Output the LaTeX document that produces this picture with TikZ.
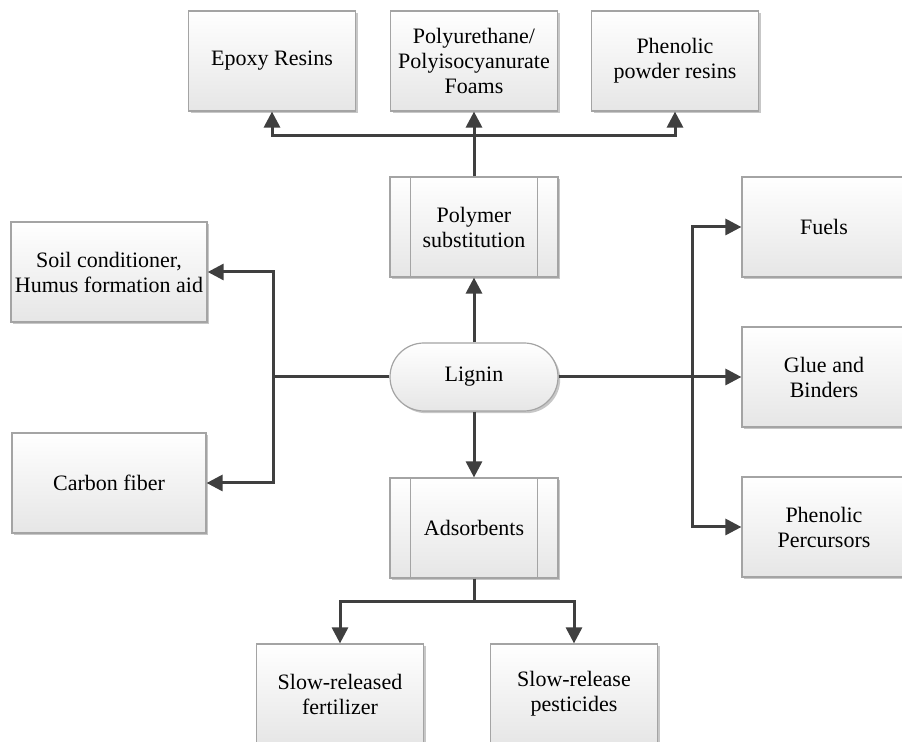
\documentclass[tikz,border=0pt]{standalone}
\usepackage{fontspec}
\setmainfont{Liberation Serif}
\usetikzlibrary{arrows.meta,shadows,calc}
\definecolor{boxborder}{HTML}{A4A4A4}
\definecolor{boxbottom}{HTML}{E6E6E6}
\definecolor{linec}{HTML}{3F3F3F}
\tikzset{
  box/.style={draw=boxborder, line width=0.6pt, top color=white, bottom color=boxbottom,
    minimum width=83.5pt, minimum height=50pt, align=center, inner sep=2pt,
    font=\fontsize{11}{12.5}\selectfont,
    drop shadow={shadow xshift=1.1pt, shadow yshift=-1.1pt, opacity=0.22, fill=black}},
  widebox/.style={box, minimum width=97pt},
  sidebox/.style={box, minimum width=82pt},
  pill/.style={box, rounded corners=17pt, minimum width=84pt, minimum height=34pt},
  conn/.style={draw=linec, line width=1.5pt},
  arr/.style={conn, -{Triangle[length=8pt,width=8pt]}},
  innerbar/.style={draw=boxborder, line width=0.6pt}
}
\begin{document}
\begin{tikzpicture}[x=0.5pt,y=-0.5pt]
\useasboundingbox (0,0) rectangle (902,742);
\clip (0,0) rectangle (902,742);
% top row
\node[box] (epoxy) at (272,61) {Epoxy Resins};
\node[box] (poly) at (474,61) {Polyurethane/\\Polyisocyanurate\\Foams};
\node[box] (phen) at (675,61) {Phenolic\\powder resins};
% centre column
\node[box, minimum width=84pt] (polymer) at (474,227) {Polymer\\substitution};
\draw[innerbar] ([xshift=10.5pt]polymer.north west) -- ([xshift=10.5pt]polymer.south west);
\draw[innerbar] ([xshift=-10.5pt]polymer.north east) -- ([xshift=-10.5pt]polymer.south east);
\node[pill] (lignin) at (474,377) {Lignin};
\node[box, minimum width=84pt] (adsorb) at (474,528) {Adsorbents};
\draw[innerbar] ([xshift=10.5pt]adsorb.north west) -- ([xshift=10.5pt]adsorb.south west);
\draw[innerbar] ([xshift=-10.5pt]adsorb.north east) -- ([xshift=-10.5pt]adsorb.south east);
% left
\node[widebox] (soil) at (109,272) {Soil conditioner,\\Humus formation aid};
\node[widebox] (carbon) at (109,483) {Carbon fiber};
% right
\node[sidebox] (fuels) at (824,227) {Fuels};
\node[sidebox] (glue) at (824,377) {Glue and\\Binders};
\node[sidebox] (perc) at (824,527) {Phenolic\\Percursors};
% bottom
\node[box] (fert) at (340,694) {Slow-released\\fertilizer};
\node[box] (pest) at (574,694) {Slow-release\\pesticides};

% connectors
\coordinate (tj) at (474,136);
\coordinate (lj) at (273,377);
\coordinate (rj) at (692,377);
\coordinate (bj) at (474,602);
\draw[arr] (lignin.north) -- (polymer.south);
\draw[arr] (polymer.north) -- (poly.south);
\draw[arr] (tj) -| (epoxy.south);
\draw[arr] (tj) -| (phen.south);
\draw[conn] (lignin.west) -- (lj);
\draw[arr] (lj) |- (soil.east);
\draw[arr] (lj) |- (carbon.east);
\draw[arr] (lignin.east) -- (glue.west);
\draw[arr] (rj) |- (fuels.west);
\draw[arr] (rj) |- (perc.west);
\draw[arr] (lignin.south) -- (adsorb.north);
\draw[conn] (adsorb.south) -- (bj);
\draw[arr] (bj) -| (fert.north);
\draw[arr] (bj) -| (pest.north);
\end{tikzpicture}
\end{document}
